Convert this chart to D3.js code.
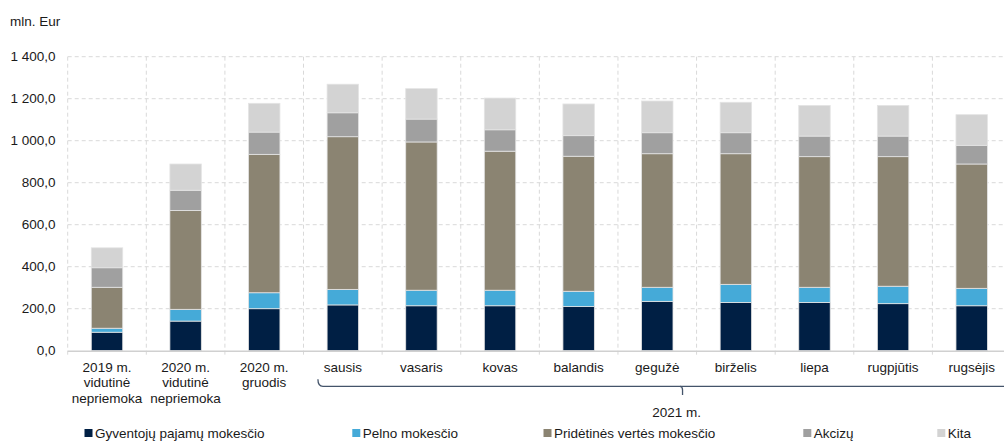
<!DOCTYPE html>
<html>
<head>
<meta charset="utf-8">
<script src="https://cdn.jsdelivr.net/npm/d3@7"></script>
<style>
  html, body { margin: 0; padding: 0; background: #fff; }
  svg { display: block; font-family: "Liberation Sans", Arial, sans-serif; }
</style>
</head>
<body>
<svg id="chart" width="1004" height="441"></svg>
<script>
// ---- data ----
const categories = ["2019 m.|vidutinė|nepriemoka", "2020 m.|vidutinė|nepriemoka", "2020 m.|gruodis",
  "sausis", "vasaris", "kovas", "balandis", "gegužė", "birželis", "liepa", "rugpjūtis", "rugsėjis"];
const seriesNames = ["Gyventojų pajamų mokesčio", "Pelno mokesčio", "Pridėtinės vertės mokesčio", "Akcizų", "Kita"];
const gpm    = [88, 141, 200, 218, 214, 214, 210, 235, 230, 230, 224, 214];
const pelno  = [19, 56, 76, 74, 74, 74, 73, 67, 86, 72, 83, 83];
const pvm    = [195, 471, 659, 727, 706, 662, 643, 636, 622, 622, 617, 592];
const akcizu = [93, 96, 106, 114, 109, 102, 98, 100, 100, 98, 98, 89];
const kita   = [95, 125, 137, 136, 145, 151, 151, 151, 145, 146, 146, 146];
const yTicks = [0, 200, 400, 600, 800, 1000, 1200, 1400];
const groupLabel = "2021 m.";
const unitLabel = "mln. Eur";
const colors = ["#001f44", "#45aad8", "#8b8472", "#a0a0a0", "#d3d3d3"];

// ---- build table ----
const keys = ["gpm", "pelno", "pvm", "akcizu", "kita"];
const table = categories.map((c, i) => ({cat: c, gpm: gpm[i], pelno: pelno[i], pvm: pvm[i], akcizu: akcizu[i], kita: kita[i]}));
const stacked = d3.stack().keys(keys)(table);

const svg = d3.select("#chart");
const x = d3.scaleBand().domain(categories).range([67.7, 1011]).paddingInner(0.6).paddingOuter(0.3);
const y = d3.scaleLinear().domain([0, 1400]).range([350.7, 56.7]);
const locale = d3.formatLocale({decimal: ",", thousands: " ", grouping: [3], currency: ["", ""]});
const fmt = locale.format(",.1f");
const textColor = "#1a1a1a";
const gridColor = "#d9d9d9";

// horizontal gridlines
svg.append("g").selectAll("line").data(yTicks.filter(t => t > 0)).join("line")
  .attr("x1", x.range()[0]).attr("x2", 1004)
  .attr("y1", d => y(d)).attr("y2", d => y(d))
  .attr("stroke", gridColor).attr("stroke-width", 1).attr("stroke-dasharray", "4,3");

// vertical gridlines (category boundaries)
const step = x.step();
const bounds = d3.range(categories.length + 1).map(i => x.range()[0] + i * step);
svg.append("g").selectAll("line").data(bounds).join("line")
  .attr("x1", d => d).attr("x2", d => d)
  .attr("y1", y(1400)).attr("y2", y(0) + 4)
  .attr("stroke", gridColor).attr("stroke-width", 1).attr("stroke-dasharray", "4,3");

// bars
svg.append("g").selectAll("g").data(stacked).join("g")
  .attr("fill", (d, i) => colors[i])
  .selectAll("rect").data(d => d).join("rect")
  .attr("x", d => x(d.data.cat))
  .attr("width", x.bandwidth())
  .attr("y", d => y(d[1]))
  .attr("height", d => y(d[0]) - y(d[1]))
  .attr("stroke", "#e4e4e4").attr("stroke-width", 0.8);

// baseline axis
svg.append("line")
  .attr("x1", x.range()[0]).attr("x2", 1004)
  .attr("y1", y(0) + 0.5).attr("y2", y(0) + 0.5)
  .attr("stroke", "#d0d0d0").attr("stroke-width", 1.6);

// y tick labels
svg.append("g").selectAll("text").data(yTicks).join("text")
  .attr("x", 55.5).attr("y", d => y(d)).attr("dy", "0.35em")
  .attr("text-anchor", "end").attr("font-size", 13.5).attr("fill", textColor)
  .text(d => fmt(d));

// unit label
svg.append("text").attr("x", 10).attr("y", 26).attr("font-size", 13.5).attr("fill", textColor).text(unitLabel);

// category labels
const catG = svg.append("g").selectAll("text").data(categories).join("text")
  .attr("x", d => x(d) + x.bandwidth() / 2)
  .attr("y", 372)
  .attr("text-anchor", "middle").attr("font-size", 13.5).attr("fill", textColor);
catG.selectAll("tspan").data(d => d.split("|").map(s => ({s, c: d}))).join("tspan")
  .attr("x", d => x(d.c) + x.bandwidth() / 2)
  .attr("dy", (d, i) => i === 0 ? 0 : 15.3)
  .text(d => d.s);

// group bracket for 2021 (group continues beyond the visible right edge)
const gStart = x.range()[0] + 3 * step + 14.4;
const gEnd = x.range()[0] + 12.46 * step;
const midX = (gStart + gEnd) / 2;
const bracketColor = "#44546a";
svg.append("path")
  .attr("d", `M${gStart},379.3 Q${gStart},386.3 ${gStart + 5},386.3 L1010,386.3`)
  .attr("fill", "none").attr("stroke", bracketColor).attr("stroke-width", 1.3);
svg.append("path")
  .attr("d", `M${midX - 2.5},386.3 Q${midX},386.5 ${midX},390 L${midX},395`)
  .attr("fill", "none").attr("stroke", bracketColor).attr("stroke-width", 1.3);
svg.append("text").attr("x", midX - 6).attr("y", 416.5).attr("text-anchor", "middle")
  .attr("font-size", 13.5).attr("fill", textColor).text(groupLabel);

// legend
const legendX = [84.5, 352.3, 543.5, 803.3, 937.3];
const lg = svg.append("g").selectAll("g").data(seriesNames).join("g")
  .attr("transform", (d, i) => `translate(${legendX[i]},0)`);
lg.append("rect").attr("x", 0).attr("y", 429).attr("width", 8).attr("height", 8)
  .attr("fill", (d, i) => colors[i]);
lg.append("text").attr("x", 10.5).attr("y", 437.5).attr("font-size", 13.5).attr("fill", textColor)
  .text(d => d);
</script>
</body>
</html>
